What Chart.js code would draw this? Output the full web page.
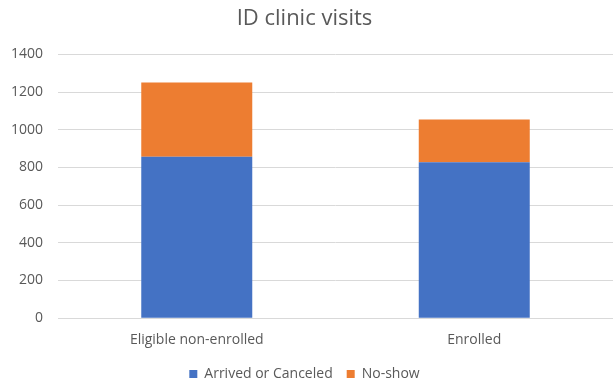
<!DOCTYPE html>
<html>
<head>
<meta charset="utf-8">
<script src="https://cdn.jsdelivr.net/npm/chart.js@4"></script>
<style>
  html, body { margin: 0; padding: 0; background: #fff; }
  #wrap { width: 613px; height: 384px; }
</style>
</head>
<body>
<div id="wrap"><canvas id="chart"></canvas></div>
<script>
// Chart data
const arrCategories = ['Eligible non-enrolled', 'Enrolled'];
const arrArrived = [857, 827];
const arrNoShow = [394, 227];
const arrSeriesNames = ['Arrived or Canceled', 'No-show'];

const strFont = '"Open Sans", "Noto Sans", sans-serif';
const strGrey = '#595959';

const ctx = document.getElementById('chart').getContext('2d');
new Chart(ctx, {
    type: 'bar',
    data: {
        labels: arrCategories,
        datasets: [
            { label: arrSeriesNames[0], data: arrArrived, backgroundColor: '#4472c4' },
            { label: arrSeriesNames[1], data: arrNoShow, backgroundColor: '#ed7d31' }
        ]
    },
    options: {
        responsive: true,
        maintainAspectRatio: false,
        animation: false,
        // negative padding pulls the axis and legend out to where the original sits
        layout: { padding: { left: -4, right: 0, top: 6, bottom: -7 } },
        datasets: { bar: { categoryPercentage: 0.4, barPercentage: 1 } },
        plugins: {
            title: {
                display: true,
                text: 'ID clinic visits',
                color: strGrey,
                font: { family: strFont, size: 22, weight: 'normal' },
                padding: { top: 0, bottom: 22 }
            },
            legend: {
                position: 'bottom',
                labels: {
                    color: strGrey,
                    font: { family: strFont, size: 14 },
                    boxWidth: 8,
                    boxHeight: 8,
                    padding: 14
                }
            },
            tooltip: { enabled: false }
        },
        scales: {
            x: {
                stacked: true,
                grid: { display: false },
                border: { color: '#d9d9d9' },
                ticks: { color: strGrey, font: { family: strFont, size: 14 }, padding: 5 }
            },
            y: {
                stacked: true,
                min: 0,
                max: 1400,
                ticks: {
                    stepSize: 200,
                    color: strGrey,
                    font: { family: strFont, size: 14 },
                    padding: 15,
                    callback: (v) => String(v)
                },
                grid: { color: '#d9d9d9', drawTicks: false },
                border: { display: false }
            }
        }
    }
});
</script>
</body>
</html>
